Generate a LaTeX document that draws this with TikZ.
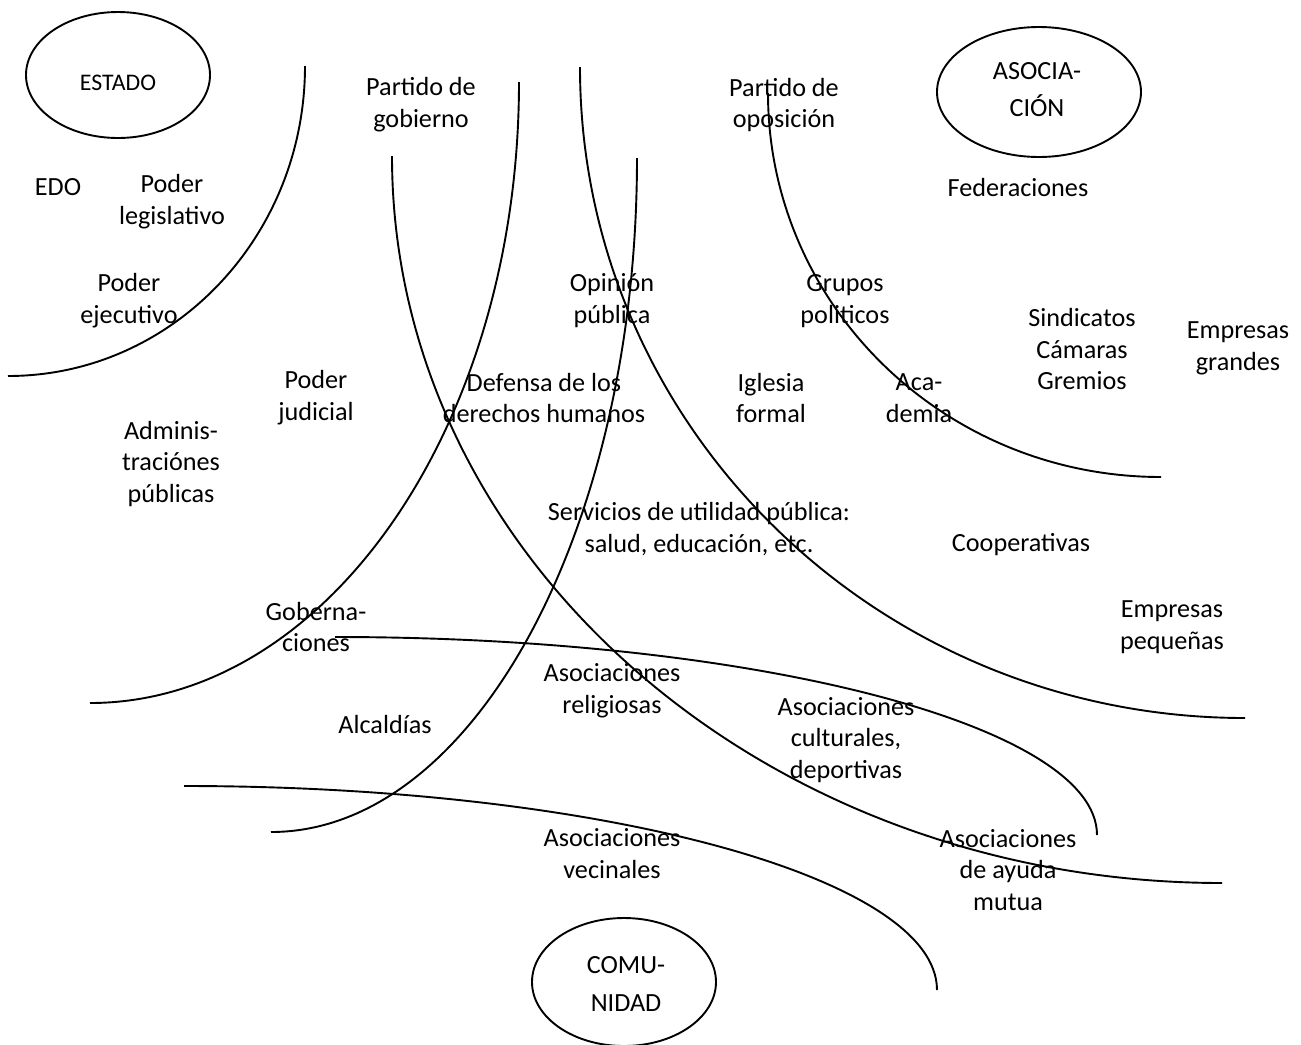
\documentclass[tikz,border=0pt]{standalone}
\usepackage{fontspec}
\setmainfont{Carlito}
\usetikzlibrary{calc}
\tikzstyle{sector}=[line width=0.8pt]
\tikzstyle{actor}=[align=center,inner sep=0pt,font=\fontsize{11}{13.4}\selectfont]
\tikzstyle{spherename}=[actor,font=\fontsize{11}{15.6}\selectfont]
\def\sectorarc[#1](#2)(#3:#4:#5:#6)% Syntax: [draw options] (center) (start angle:end angle:x radius:y radius)
    { \draw[#1] ($(#2)+({#5*cos(#3)},{#6*sin(#3)})$) arc (#3:#4:#5 and #6); }

\begin{document}
\begin{tikzpicture}[x=0.42pt,y=-0.42pt]
	\useasboundingbox (0,0) rectangle (1301,1045);
	% the three spheres
	\draw[sector] (118,75) ellipse (92 and 63);
	\draw[sector] (1039,92) ellipse (102 and 65);
	\draw[sector] (624,982) ellipse (92 and 64);
	\node[actor,font=\fontsize{10}{12}\selectfont] (estado) at (118,83) {ESTADO};
	\node[spherename] (asociacion) at (1037,90) {ASOCIA-\\CIÓN};
	\node[spherename] (comunidad) at (626,984) {COMU-\\NIDAD};
	% boundaries
	\sectorarc[sector](8,66)(0:90:297:310)
	\sectorarc[sector](90,82)(0:90:429:621)
	\sectorarc[sector](1222,156)(180:90:830:727)
	\sectorarc[sector](271,158)(0:90:366:674)
	\sectorarc[sector](1245,67)(180:90:665:651)
	\sectorarc[sector](1161,93)(180:90:393:384)
	\sectorarc[sector](335,835)(-90:0:762:198)
	\sectorarc[sector](184,990)(-90:0:753:204)
	% actors
	\node[actor] (edo) at (58,187) {EDO};
	\node[actor] (legislativo) at (172,202) {Poder\\legislativo};
	\node[actor] (ejecutivo) at (129,301) {Poder\\ejecutivo};
	\node[actor] (gobierno) at (421,105) {Partido de\\gobierno};
	\node[actor] (oposicion) at (784,105) {Partido de\\oposición};
	\node[actor] (federaciones) at (1018,187) {Federaciones};
	\node[actor] (opinion) at (612,301) {Opinión\\pública};
	\node[actor] (grupos) at (845,301) {Grupos\\politicos};
	\node[actor] (sindicatos) at (1082,349) {Sindicatos\\Cámaras\\Gremios};
	\node[actor] (grandes) at (1238,348) {Empresas\\grandes};
	\node[actor] (judicial) at (316,398) {Poder\\judicial};
	\node[actor] (ddhh) at (544,398) {Defensa de los\\derechos humanos};
	\node[actor] (iglesia) at (771,398) {Iglesia\\formal};
	\node[actor] (academia) at (919,398) {Aca-\\demia};
	\node[actor] (administraciones) at (171,464) {Adminis-\\traciónes\\públicas};
	\node[actor] (servicios) at (699,529) {Servicios de utilidad pública:\\salud, educación, etc.};
	\node[actor] (cooperativas) at (1021,545) {Cooperativas};
	\node[actor] (pequenas) at (1172,627) {Empresas\\pequeñas};
	\node[actor] (gobernaciones) at (316,627) {Goberna-\\ciones};
	\node[actor] (religiosas) at (612,691) {Asociaciones\\religiosas};
	\node[actor] (alcaldias) at (385,724) {Alcaldías};
	\node[actor] (culturales) at (846,740) {Asociaciones\\culturales,\\deportivas};
	\node[actor] (vecinales) at (612,854) {Asociaciones\\vecinales};
	\node[actor] (ayuda) at (1008,870) {Asociaciones\\de ayuda\\mutua};
\end{tikzpicture}
\end{document}
